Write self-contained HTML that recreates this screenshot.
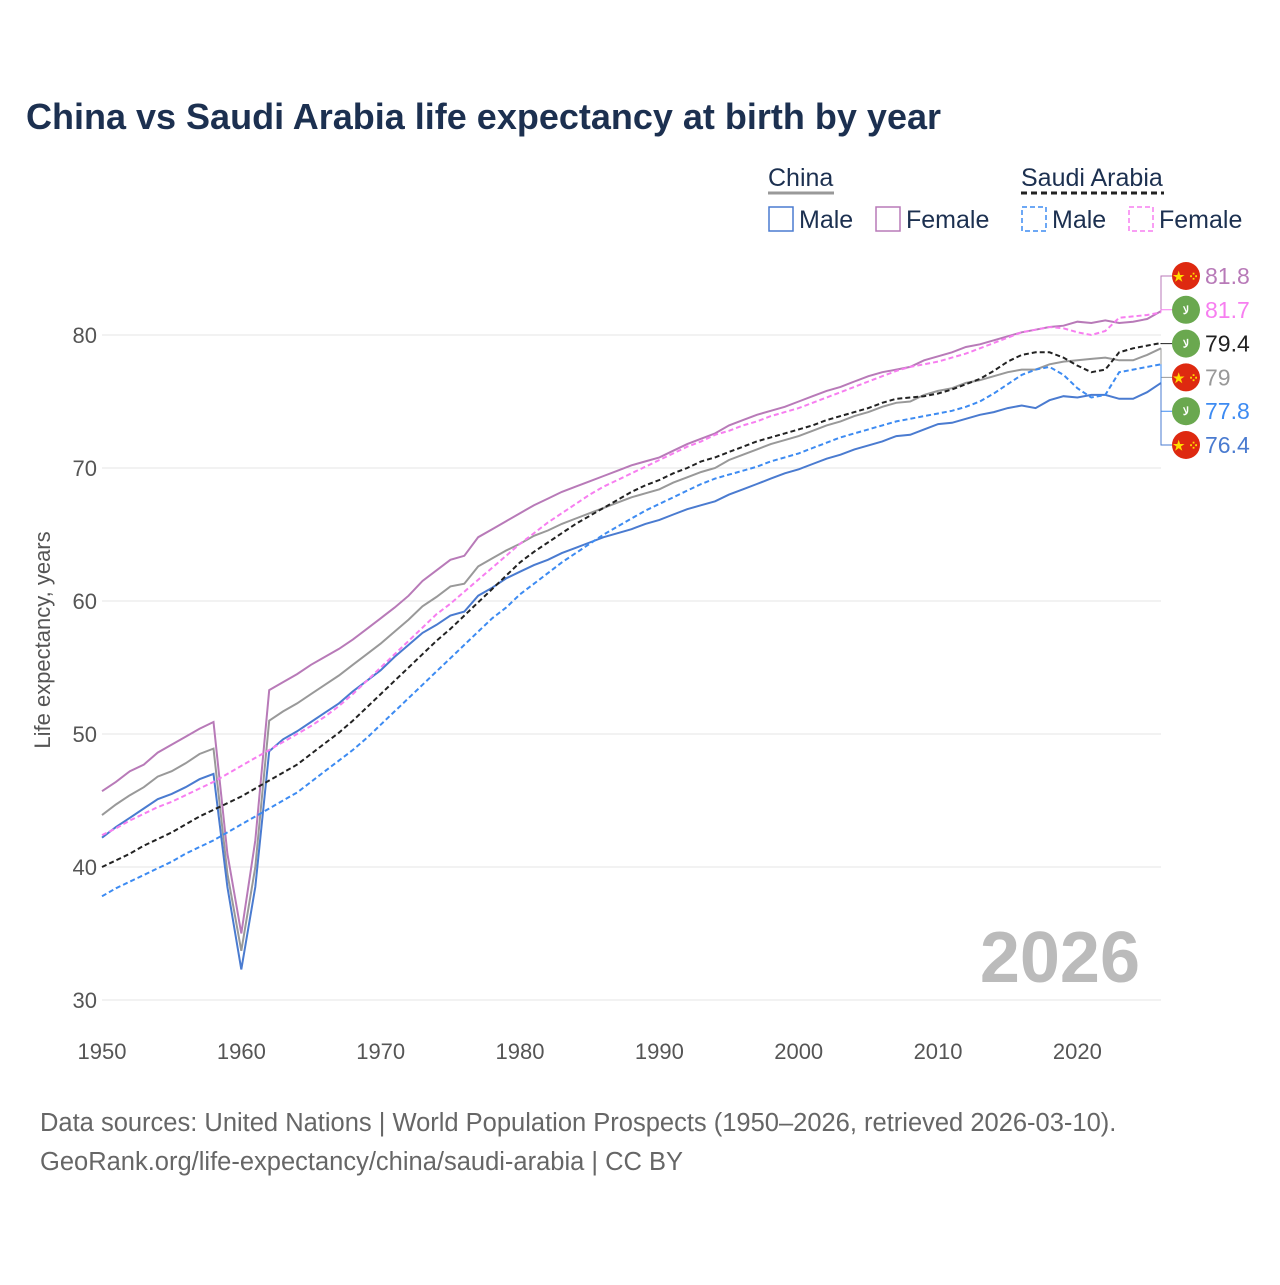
<!DOCTYPE html>
<html><head><meta charset="utf-8"><style>
body{margin:0;background:#fff;}
svg text{font-family:"Liberation Sans",sans-serif;}
</style></head><body>
<svg id="chart" width="1280" height="1280" xmlns="http://www.w3.org/2000/svg">
<text x="26" y="129" font-size="36" font-weight="bold" fill="#1c3050">China vs Saudi Arabia life expectancy at birth by year</text>
<g font-size="25" fill="#1c3050">
<text x="768" y="186" fill="#1c3050">China</text>
<line x1="768" y1="193" x2="834" y2="193" stroke="#999" stroke-width="3"/>
<rect x="769" y="207" width="24" height="24" fill="none" stroke="#4a7bd0" stroke-width="1.5"/>
<text x="799" y="228">Male</text>
<rect x="876" y="207" width="24" height="24" fill="none" stroke="#b87ab8" stroke-width="1.5"/>
<text x="906" y="228">Female</text>
<text x="1021" y="186">Saudi Arabia</text>
<line x1="1021" y1="193" x2="1164" y2="193" stroke="#222" stroke-width="3" stroke-dasharray="6,4"/>
<rect x="1022" y="207" width="24" height="24" fill="none" stroke="#3d8bf2" stroke-width="1.5" stroke-dasharray="5,3"/>
<text x="1052" y="228">Male</text>
<rect x="1129" y="207" width="24" height="24" fill="none" stroke="#f77ef0" stroke-width="1.5" stroke-dasharray="5,3"/>
<text x="1159" y="228">Female</text>
</g>
<g id="grid"></g>
<text x="1140" y="982" font-size="72" font-weight="bold" fill="#bbb" text-anchor="end">2026</text>
<text transform="translate(50,640) rotate(-90)" font-size="22" fill="#555" text-anchor="middle">Life expectancy, years</text>
<g id="series"></g>
<g id="labels"></g>
<text x="40" y="1131" font-size="25.5" fill="#666">Data sources: United Nations | World Population Prospects (1950–2026, retrieved 2026-03-10).</text>
<text x="40" y="1170" font-size="25.5" fill="#666">GeoRank.org/life-expectancy/china/saudi-arabia | CC BY</text>
</svg>
<script>
const years=[];for(let y=1950;y<=2026;y++)years.push(y);
const xTicks=[1950,1960,1970,1980,1990,2000,2010,2020];
const yTicks=[30,40,50,60,70,80];
const chinaMale=[42.2,43.0,43.7,44.4,45.1,45.5,46.0,46.6,47.0,38.5,32.3,38.5,48.7,49.6,50.2,50.9,51.6,52.3,53.2,54.0,54.8,55.8,56.7,57.6,58.2,58.9,59.2,60.4,61.0,61.7,62.2,62.7,63.1,63.6,64.0,64.4,64.8,65.1,65.4,65.8,66.1,66.5,66.9,67.2,67.5,68.0,68.4,68.8,69.2,69.6,69.9,70.3,70.7,71.0,71.4,71.7,72.0,72.4,72.5,72.9,73.3,73.4,73.7,74.0,74.2,74.5,74.7,74.5,75.1,75.4,75.3,75.5,75.5,75.2,75.2,75.7,76.4];
const chinaFemale=[45.7,46.4,47.2,47.7,48.6,49.2,49.8,50.4,50.9,41.0,35.0,42.0,53.3,53.9,54.5,55.2,55.8,56.4,57.1,57.9,58.7,59.5,60.4,61.5,62.3,63.1,63.4,64.8,65.4,66.0,66.6,67.2,67.7,68.2,68.6,69.0,69.4,69.8,70.2,70.5,70.8,71.3,71.8,72.2,72.6,73.2,73.6,74.0,74.3,74.6,75.0,75.4,75.8,76.1,76.5,76.9,77.2,77.4,77.6,78.1,78.4,78.7,79.1,79.3,79.6,79.9,80.2,80.4,80.6,80.7,81.0,80.9,81.1,80.9,81.0,81.2,81.8];
const chinaTotal=[43.9,44.7,45.4,46.0,46.8,47.2,47.8,48.5,48.9,39.5,33.7,40.0,51.0,51.7,52.3,53.0,53.7,54.4,55.2,56.0,56.8,57.7,58.6,59.6,60.3,61.1,61.3,62.6,63.2,63.8,64.3,64.9,65.3,65.8,66.2,66.6,67.0,67.4,67.8,68.1,68.4,68.9,69.3,69.7,70.0,70.6,71.0,71.4,71.8,72.1,72.4,72.8,73.2,73.5,73.9,74.2,74.6,74.9,75.0,75.5,75.8,76.0,76.4,76.6,76.9,77.2,77.4,77.4,77.8,78.0,78.1,78.2,78.3,78.1,78.1,78.5,79.0];
const saudiTotal=[40.0,40.5,41.0,41.6,42.1,42.6,43.2,43.8,44.3,44.8,45.3,45.9,46.5,47.1,47.7,48.5,49.3,50.1,51.0,52.0,53.0,54.0,55.0,56.0,57.0,57.9,58.9,59.9,60.9,61.9,62.9,63.7,64.4,65.1,65.8,66.4,67.0,67.6,68.2,68.7,69.1,69.6,70.0,70.5,70.8,71.2,71.6,72.0,72.3,72.6,72.9,73.2,73.6,73.9,74.2,74.5,74.9,75.2,75.3,75.4,75.6,75.9,76.3,76.7,77.3,78.0,78.5,78.7,78.7,78.3,77.7,77.2,77.4,78.7,79.0,79.2,79.4];
const saudiMale=[37.8,38.4,38.9,39.4,39.9,40.4,41.0,41.5,42.0,42.6,43.2,43.8,44.4,45.0,45.6,46.4,47.2,48.0,48.8,49.7,50.7,51.7,52.7,53.7,54.7,55.7,56.7,57.7,58.7,59.5,60.5,61.3,62.1,62.9,63.6,64.3,65.0,65.6,66.2,66.8,67.3,67.8,68.3,68.8,69.2,69.5,69.8,70.1,70.5,70.8,71.1,71.5,71.9,72.3,72.6,72.9,73.2,73.5,73.7,73.9,74.1,74.3,74.6,75.0,75.6,76.3,77.0,77.4,77.6,77.0,76.0,75.3,75.5,77.2,77.4,77.6,77.8];
const saudiFemale=[42.4,42.9,43.5,44.0,44.5,44.9,45.4,45.9,46.4,47.0,47.6,48.2,48.8,49.4,50.0,50.6,51.3,52.1,53.0,54.0,55.0,56.0,57.0,58.0,59.0,59.8,60.7,61.6,62.5,63.4,64.3,65.1,65.9,66.6,67.3,68.0,68.6,69.1,69.6,70.1,70.6,71.1,71.6,72.0,72.5,72.8,73.2,73.5,73.9,74.2,74.5,74.9,75.3,75.7,76.1,76.5,76.9,77.3,77.6,77.8,78.0,78.3,78.6,79.0,79.4,79.8,80.2,80.4,80.6,80.5,80.2,80.0,80.3,81.3,81.4,81.5,81.7];
const X=y=>102+(y-1950)*(1161-102)/76;
const Y=v=>1000-(v-30)*13.3;
const NS="http://www.w3.org/2000/svg";
function mk(tag,attrs,parent){const e=document.createElementNS(NS,tag);for(const k in attrs)e.setAttribute(k,attrs[k]);parent.appendChild(e);return e;}
const grid=document.getElementById('grid');
yTicks.forEach(t=>{
 const l=mk('line',{x1:102,x2:1161,y1:Y(t),y2:Y(t),stroke:'#e6e6e6','stroke-width':1},grid);
 
 
 const tx=mk('text',{x:97,y:Y(t)+8,'font-size':22,fill:'#555','text-anchor':'end'},grid);tx.textContent=t;
 
 
});
xTicks.forEach(t=>{
 const tx=mk('text',{x:X(t),y:1059,'font-size':22,fill:'#555','text-anchor':'middle'},grid);tx.textContent=t;
 
 
});
const series=[
 ['china-total',chinaTotal,'#999',null],
 ['china-female',chinaFemale,'#b87ab8',null],
 ['china-male',chinaMale,'#4a7bd0',null],
 ['saudi-female',saudiFemale,'#f77ef0','5,3'],
 ['saudi-male',saudiMale,'#3d8bf2','5,3'],
 ['saudi-total',saudiTotal,'#222','5,3']];
const sg=document.getElementById('series');
series.forEach(([n,d,c,da])=>{
 const pts=d.map((v,i)=>X(years[i]).toFixed(1)+','+Y(v).toFixed(1)).join(' ');
 const a={points:pts,fill:'none',stroke:c,'stroke-width':2};if(da)a['stroke-dasharray']=da;
 const p=mk('polyline',a,sg);
 
 
});
const labels=[
 ['china-female',chinaFemale,'#b87ab8','china'],
 ['saudi-female',saudiFemale,'#f77ef0','saudi'],
 ['saudi-total',saudiTotal,'#222','saudi'],
 ['china-total',chinaTotal,'#999','china'],
 ['saudi-male',saudiMale,'#3d8bf2','saudi'],
 ['china-male',chinaMale,'#4a7bd0','china']];
const lg=document.getElementById('labels');
labels.forEach(([n,d,c,f],i)=>{
 const v=d[d.length-1];const ly=276+i*33.8;
 const yEnd=Y(v);
 mk('polyline',{points:`1161,${yEnd} 1161,${ly} 1172,${ly}`,fill:'none',stroke:c,'stroke-width':1},lg);
 const g=mk('g',{},lg);
 
 
 mk('circle',{cx:1186,cy:ly,r:14,fill:f==='china'?'#de2910':'#6aa84f'},g);
 const ic=mk('text',{x:1186,y:ly+(f==='china'?5:4),'font-size':f==='china'?13:11,fill:f==='china'?'#ffde00':'#fff','text-anchor':'middle','font-weight':'bold'},g);
 ic.textContent=f==='china'?'★ ⁘':'ﻻ';
 const t=mk('text',{x:1205,y:ly+8,'font-size':23,fill:c},g);
 t.textContent=String(v);
});
</script>
</body></html>
